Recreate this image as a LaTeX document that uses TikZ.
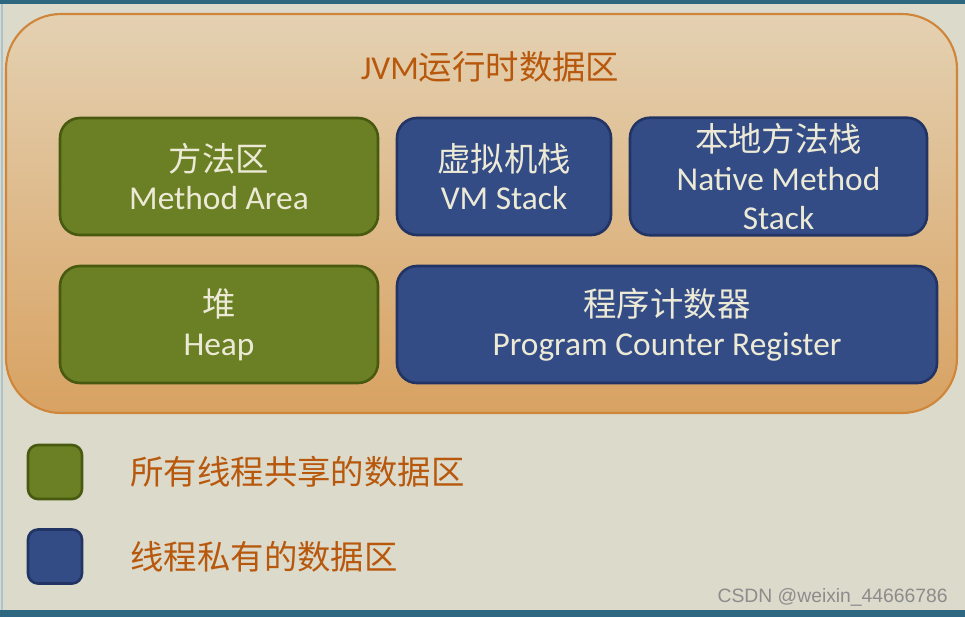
\documentclass[tikz,border=0pt]{standalone}
\usepackage{fontspec}
\setmainfont{Carlito}
\newfontfamily\cjk{Noto Sans CJK SC}
\newfontfamily\marksans{Liberation Sans}
\usetikzlibrary{positioning}

\definecolor{bgback}{RGB}{220,218,203}
\definecolor{bandteal}{RGB}{46,104,128}
\definecolor{areatop}{RGB}{228,209,178}
\definecolor{areabot}{RGB}{216,162,98}
\definecolor{areaedge}{RGB}{207,134,58}
\definecolor{sharedfill}{RGB}{107,128,36}
\definecolor{sharededge}{RGB}{72,90,16}
\definecolor{privfill}{RGB}{52,76,133}
\definecolor{privedge}{RGB}{34,52,100}
\definecolor{boxtext}{RGB}{236,234,214}
\definecolor{labeltext}{RGB}{184,88,12}

\begin{document}
\begin{tikzpicture}[
    region/.style={rounded corners=0.4cm,line width=1.5pt,text=boxtext,align=center,
                   minimum height=2.34cm,font=\fontsize{19}{22}\selectfont},
    greenbox/.style={region,fill=sharedfill,draw=sharededge},
    bluebox/.style={region,fill=privfill,draw=privedge},
    legendbox/.style={rounded corners=0.2cm,line width=1.5pt,minimum size=1.08cm},
    legendtext/.style={text=labeltext,font=\fontsize{19}{22}\selectfont\cjk,anchor=west},
    node distance=0.82cm]
    \useasboundingbox (0,0) rectangle (19.3,-12.34);
    \fill[bgback] (0,0) rectangle (19.3,-12.34);
    \fill[bandteal] (0,0) rectangle (19.3,-0.08);
    \fill[bandteal] (0,-12.2) rectangle (19.3,-12.34);
    \draw[bandteal!40,line width=0.8pt] (0.04,-0.08) -- (0.04,-12.2);

    % runtime data area
    \shade[top color=areatop,bottom color=areabot,draw=areaedge,line width=1.2pt,
           rounded corners=1.1cm] (0.12,-0.28) rectangle (19.14,-8.26);
    \node[text=labeltext,font=\fontsize{19}{22}\selectfont] (title) at (9.8,-1.34)
        {JVM{\cjk 运行时数据区}};

    \node[greenbox,minimum width=6.36cm] (method) at (4.38,-3.53)
        {{\cjk 方法区}\\Method Area};
    \node[bluebox,minimum width=4.28cm]  (vmstack) at (10.08,-3.53)
        {{\cjk 虚拟机栈}\\VM Stack};
    \node[bluebox,minimum width=5.94cm]  (native) at (15.57,-3.53)
        {{\cjk 本地方法栈}\\Native Method\\Stack};
    \node[greenbox,minimum width=6.36cm] (heap) at (4.38,-6.49)
        {{\cjk 堆}\\Heap};
    \node[bluebox,minimum width=10.8cm]  (pc) at (13.34,-6.49)
        {{\cjk 程序计数器}\\Program Counter Register};

    % legend
    \node[legendbox,fill=sharedfill,draw=sharededge] (sharedkey) at (1.1,-9.44) {};
    \node[legendbox,fill=privfill,draw=privedge]     (privkey) at (1.1,-11.13) {};
    \node[legendtext,right=of sharedkey] (sharedlabel) {所有线程共享的数据区};
    \node[legendtext,right=of privkey]   (privlabel)   {线程私有的数据区};

    \node[anchor=east,text=black!45,font=\fontsize{11}{13}\selectfont\marksans] (mark)
        at (19.08,-11.94) {CSDN @weixin\_44666786};
\end{tikzpicture}
\end{document}
